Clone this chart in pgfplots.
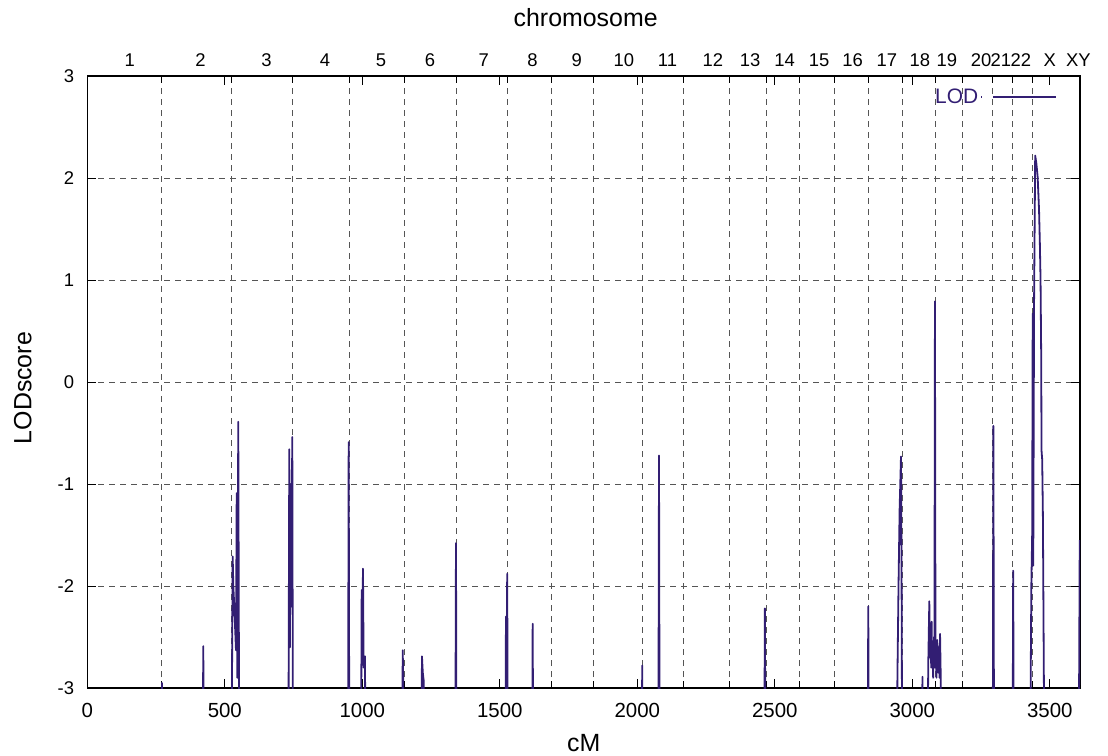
\documentclass[border=0pt]{standalone}
\usepackage{pgfplots}
\pgfplotsset{compat=1.18}
\usepackage{fontspec}
\setmainfont{Liberation Sans}
\definecolor{lodc}{RGB}{50,30,115}
\definecolor{gridc}{RGB}{85,85,85}
\pgfplotstableread{
x y
0 -4
268 -4
271.6 -2.95
274 -4
419 -4
421.8 -2.59
424 -4
524 -4
528.7 -1.71
531 -2.0
534.5 -2.2
540.7 -2.63
543.3 -1.09
545.5 -2.9
549 -0.39
552.7 -4
731 -4
734.5 -0.66
737 -2.6
739 -1.0
741 -2.2
745.5 -0.54
748 -4
948 -4
950.5 -0.59
953 -4
995 -4
997.8 -2.04
1000 -2.6
1002.5 -1.83
1005 -2.8
1009.8 -2.69
1012 -4
1145 -4
1147 -2.63
1149 -2.95
1151 -4
1214.5 -4
1217 -2.69
1220 -2.85
1223 -2.92
1225 -4
1338 -4
1340.7 -1.58
1343 -4
1520 -4
1522.5 -2.3
1524.5 -2.8
1527 -1.88
1529.5 -4
1617 -4
1619.6 -2.37
1622 -4
2015.5 -4
2018 -2.78
2020 -4
2076.5 -4
2079 -0.72
2081.5 -4
2461.5 -4
2464 -2.22
2466.5 -4
2837.5 -4
2840 -2.2
2842.5 -4
2943 -4
2946 -2.9
2950 -2.0
2954 -1.25
2959 -0.73
2961.5 -2.2
2963.5 -4
3034.5 -4
3037 -2.89
3039.5 -4
3055 -4
3058 -2.8
3062 -2.15
3064 -2.7
3067 -2.55
3069 -2.8
3070.5 -2.35
3072 -2.75
3074 -2.65
3076 -2.9
3078.9 -2.5
3080.5 -2.8
3082.5 0.79
3084.5 -2.8
3086 -2.6
3088 -2.9
3091 -2.53
3093 -2.8
3095 -2.85
3097 -2.6
3099 -2.9
3101 -2.47
3103 -2.8
3107 -4
3292.5 -4
3295 -0.43
3297.5 -4
3364.5 -4
3367 -1.85
3369.5 -4
3428 -4
3433 -2.0
3436 -1.5
3438 0.67
3440 -1.8
3443 0.8
3447 2.22
3451 2.15
3456 2.01
3461 1.69
3464 1.36
3466.5 1.0
3469 0.22
3470 -0.67
3472.5 -0.76
3475 -1.3
3481 -4
3605 -4
3609 -1.55
}\loddata
\begin{document}
\begin{tikzpicture}
\begin{axis}[
  at={(0,0)}, anchor=south west,
  scale only axis, width=992.7bp, height=612bp,
  xmin=0, xmax=3610, ymin=-3, ymax=3,
  xtick={0,500,1000,1500,2000,2500,3000,3500},
  xticklabels={0,500,1000,1500,2000,2500,3000,3500},
  ytick={-3,-2,-1,0,1,2,3},
  yticklabels={-3,-2,-1,0,1,2,3},
  ymajorgrids,
  major grid style={gridc, dash pattern=on 6bp off 5bp, line width=0.9bp},
  extra x ticks={270,525,746,953,1152,1343,1529,1689,1842,2018,2169,2334,2469,2589,2718,2841,2963,3086,3181,3292,3365,3436},
  extra x tick labels={},
  extra x tick style={grid=major, major tick length=7bp},
  tick align=inside, major tick length=9bp,
  tick style={black, line width=0.9bp},
  axis line style={black, line width=1.1bp},
  xticklabel style={font=\fontsize{20.5}{24}\selectfont, inner sep=0pt, anchor=center, yshift=-22.5bp},
  yticklabel style={font=\fontsize{18.5}{22}\selectfont, inner sep=0pt, anchor=east, xshift=-13bp},
  xlabel={cM}, ylabel={LODscore},
  xlabel style={font=\fontsize{25}{30}\selectfont, inner sep=0pt, at={(axis description cs:0.5,-0.09)}, anchor=center},
  ylabel style={font=\fontsize{25}{30}\selectfont, at={(axis description cs:-0.065,0.49)}, anchor=center, rotate=0},
  legend style={draw=none, fill=none, at={(0.98,0.966)}, anchor=east, text=lodc, font=\fontsize{21}{25}\selectfont},
  legend plot pos=right,
  legend image code/.code={\path (0bp,0bp) -- (1bp,0bp); \draw[#1] (12bp,0bp) -- (75bp,0bp);},
]
\addplot[lodc, line width=1.8bp, line join=round] table[x=x, y=y] {\loddata};
\addlegendentry{LOD}
\end{axis}
\begin{axis}[
  at={(0,0)}, anchor=south west,
  scale only axis, width=992.7bp, height=612bp,
  xmin=0, xmax=3610, ymin=-3, ymax=3,
  axis x line*=top, axis y line=none,
  axis line style={draw=none},
  xtick={154,412,652,864,1068,1246,1442,1619,1780,1951,2110,2275,2410,2536,2661,2783,2908,3028,3126,3250,3322,3395,3500,3604},
  xticklabels={1,2,3,4,5,6,7,8,9,10,11,12,13,14,15,16,17,18,19,20,21,22,X,XY},
  major tick length=0pt,
  xticklabel style={font=\fontsize{18.5}{22}\selectfont, inner sep=0pt, anchor=center, yshift=15.5bp},
  xlabel={chromosome},
  xlabel style={font=\fontsize{25}{30}\selectfont, at={(axis description cs:0.502,1.095)}, anchor=center},
]
\end{axis}
\pgfresetboundingbox
\path[use as bounding box] (-87.3bp,-68bp) rectangle (1020.7bp,688bp);
\end{tikzpicture}
\end{document}
